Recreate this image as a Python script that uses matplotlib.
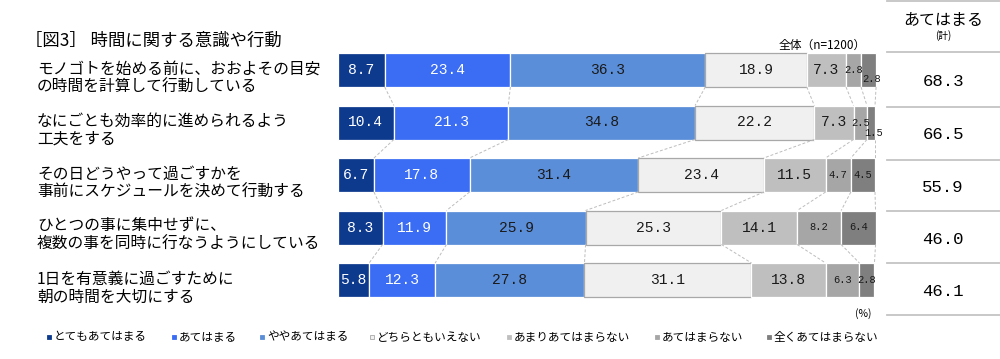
import matplotlib.pyplot as plt
from matplotlib.lines import Line2D
from matplotlib.patches import Rectangle
import numpy as np

plt.rcParams['font.family'] = ['Noto Sans CJK JP', 'DejaVu Sans']

title = "［図3］ 時間に関する意識や行動"
items = [
    ["モノゴトを始める前に、おおよその目安", "の時間を計算して行動している"],
    ["なにごとも効率的に進められるよう", "工夫をする"],
    ["その日どうやって過ごすかを", "事前にスケジュールを決めて行動する"],
    ["ひとつの事に集中せずに、", "複数の事を同時に行なうようにしている"],
    ["1日を有意義に過ごすために", "朝の時間を大切にする"],
]
categories = ["とてもあてはまる", "あてはまる", "ややあてはまる", "どちらともいえない",
              "あまりあてはまらない", "あてはまらない", "全くあてはまらない"]
values = [
    [8.7, 23.4, 36.3, 18.9, 7.3, 2.8, 2.8],
    [10.4, 21.3, 34.8, 22.2, 7.3, 2.5, 1.5],
    [6.7, 17.8, 31.4, 23.4, 11.5, 4.7, 4.5],
    [8.3, 11.9, 25.9, 25.3, 14.1, 8.2, 6.4],
    [5.8, 12.3, 27.8, 31.1, 13.8, 6.3, 2.8],
]
totals = [68.3, 66.5, 55.9, 46.0, 46.1]

colors = ["#0E3A8E", "#3A6CF4", "#5B8ED8", "#F0F0F0", "#BFBFBF", "#A6A6A6", "#7F7F7F"]
text_colors = ["white", "white", "#1a1a1a", "#1a1a1a", "#1a1a1a", "#1a1a1a", "#1a1a1a"]
# label nudges (row, segment) -> (dx px, dy px)
nudges = {(0, 6): (3, 9), (1, 6): (3, 10)}

W, H = 1000, 359
fig = plt.figure(figsize=(W / 100, H / 100), dpi=100)


def fx(x):
    return x / W


def fy(y):
    return 1 - y / H


pitch = 52.5
top = 70 - pitch / 2
ax = fig.add_axes([fx(338), fy(top + 5 * pitch), 537 / W, 5 * pitch / H])
ax.set_xlim(0, 100)
ax.set_ylim(4.5, -0.5)
ax.axis("off")

h = 34 / pitch
data = np.array(values)
cum = np.cumsum(data, axis=1)
left = cum - data
rows = np.arange(len(items))

for k in range(len(categories)):
    ec = "#A8A8A8" if k == 3 else "white"
    ax.barh(rows, data[:, k], left=left[:, k], height=h, color=colors[k],
            edgecolor=ec, linewidth=0.9, clip_on=False)
    for i in rows:
        v = data[i, k]
        small = k >= 5
        dx, dy = nudges.get((i, k), (0, 0))
        ax.annotate(f"{v:.1f}", (left[i, k] + v / 2, i), xytext=(dx * 0.72, -dy * 0.72),
                    textcoords="offset points", ha="center", va="center",
                    fontsize=7.5 if small else 10.5, color=text_colors[k],
                    family="Liberation Mono", annotation_clip=False)

# series connector lines
for i in rows[:-1]:
    for k in range(len(categories)):
        ax.plot([cum[i, k], cum[i + 1, k]], [i + h / 2, i + 1 - h / 2],
                color="#BDBDBD", lw=0.7, ls=(0, (3, 2)), clip_on=False)

fig.text(fx(25), fy(41), title, fontsize=12.5, ha="left", va="center")
for i, (l1, l2) in enumerate(items):
    yc = 70 + i * pitch
    fig.text(fx(37), fy(yc - 1), l1, fontsize=11.3, ha="left", va="center")
    fig.text(fx(37), fy(yc + 17), l2, fontsize=11.3, ha="left", va="center")

fig.text(fx(866), fy(45), "全体（n=1200）", fontsize=8.5, ha="right", va="center")
fig.text(fx(863), fy(314), "(%)", fontsize=7.5, ha="center", va="center")

# right-hand table
for y in [1, 52, 107, 160, 211, 263, 315]:
    fig.add_artist(Line2D([fx(887), 1], [fy(y), fy(y)], color="#C4C4C4", lw=1.3))
fig.text(fx(943), fy(20), "あてはまる", fontsize=11.5, ha="center", va="center")
fig.text(fx(943), fy(36), "(計)", fontsize=7, ha="center", va="center")
for i, t in enumerate(totals):
    fig.text(fx(943), fy(82 + i * pitch), f"{t:.1f}", fontsize=12.5,
             ha="center", va="center", family="Liberation Mono")

# legend
leg_x = [47, 172, 260, 370, 507, 655, 767]
for x, c, name in zip(leg_x, colors, categories):
    ec = "#A8A8A8" if c == "#F0F0F0" else c
    fig.add_artist(Rectangle((fx(x), fy(339)), 4 / W, 4 / H, facecolor=c,
                             edgecolor=ec, lw=0.6))
    fig.text(fx(x + 7), fy(337), name, fontsize=8.4, ha="left", va="center")

fig.savefig("out.png", dpi=100)
